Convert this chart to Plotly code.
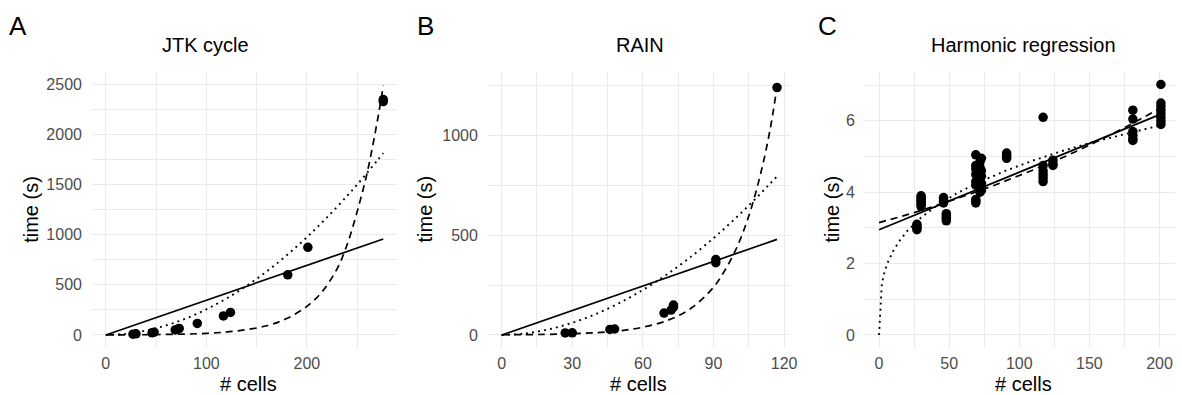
import plotly.graph_objects as go

W, H = 1182, 395

# ---------------- data: observed run times ----------------
jtk_cells = [27, 30, 46, 48, 69, 72, 73, 91, 117, 124, 181, 201, 276, 276]
jtk_time = [8, 12, 22, 28, 50, 60, 65, 115, 190, 225, 600, 875, 2330, 2350]

rain_cells = [27, 30, 46, 48, 69, 72, 73, 73, 91, 91, 117]
rain_time = [10, 11, 28, 30, 110, 125, 140, 150, 362, 378, 1240]

harm_cells = ([27] * 4 + [30] * 7 + [46] * 4 + [48] * 5 + [69] * 9 + [72] * 8 + [73] * 6
              + [91] * 4 + [117] * 6 + [124] * 3 + [181] * 6 + [201] * 8)
harm_time = [2.95, 3.0, 3.05, 3.1,
             3.6, 3.65, 3.7, 3.75, 3.8, 3.85, 3.9,
             3.7, 3.75, 3.8, 3.85,
             3.2, 3.25, 3.3, 3.35, 3.4,
             3.7, 3.75, 3.8, 4.2, 4.3, 4.5, 4.65, 4.75, 5.05,
             4.0, 4.1, 4.2, 4.3, 4.4, 4.55, 4.7, 4.85,
             4.05, 4.15, 4.25, 4.45, 4.6, 4.95,
             4.95, 5.0, 5.05, 5.1,
             4.3, 4.4, 4.5, 4.6, 4.75, 6.1,
             4.75, 4.8, 4.9,
             5.45, 5.5, 5.6, 5.7, 6.05, 6.3,
             5.9, 6.0, 6.1, 6.2, 6.3, 6.4, 6.5, 7.02]

# ---------------- fitted curves ----------------
jtk_lin_x = [0, 276]
jtk_lin_y = [0, 958]
jtk_pow_x = [0, 20, 40, 60, 80, 100, 120, 140, 160, 180, 200, 220, 240, 250, 260, 270, 276]
jtk_pow_y = [0, 11.5, 43.6, 95.6, 166, 256, 364, 490, 634, 796, 976, 1173, 1388, 1500, 1619, 1742, 1816]
jtk_exp_x = [0, 50, 100, 130, 160, 180, 200, 215, 230, 240, 250, 260, 270, 276]
jtk_exp_y = [1, 4, 16, 40, 92, 165, 285, 430, 660, 900, 1230, 1620, 2130, 2490]

rain_lin_x = [0, 117]
rain_lin_y = [0, 479]
rain_pow_x = [0, 10, 20, 30, 40, 50, 60, 70, 80, 90, 95, 100, 105, 110, 114, 117]
rain_pow_y = [0, 7.7, 28.4, 61, 105, 160, 226, 302, 388, 485, 537, 592, 649, 708, 758, 794]
rain_exp_x = [0, 30, 50, 60, 70, 80, 90, 95, 100, 105, 110, 114, 117]
rain_exp_y = [1, 6, 21, 39, 71, 130, 239, 327, 441, 596, 806, 1026, 1243]

harm_lin_x = [0, 201]
harm_lin_y = [2.95, 6.19]
harm_exp_x = [0, 25, 50, 75, 100, 125, 150, 175, 201]
harm_exp_y = [3.15, 3.43, 3.75, 4.09, 4.47, 4.87, 5.32, 5.81, 6.37]
harm_pow_x = [0, 2, 4, 6, 10, 15, 20, 30, 40, 55, 70, 90, 110, 130, 150, 175, 201]
harm_pow_y = [0, 1.44, 1.78, 2.01, 2.35, 2.66, 2.91, 3.29, 3.59, 3.96, 4.26, 4.60, 4.89, 5.15, 5.38, 5.63, 5.88]

# ---------------- tick labels ----------------
jtk_xticks = [0, 100, 200]
jtk_yticks = [0, 500, 1000, 1500, 2000, 2500]
rain_xticks = [0, 30, 60, 90, 120]
rain_yticks = [0, 500, 1000]
harm_xticks = [0, 50, 100, 150, 200]
harm_yticks = [0, 2, 4, 6]

titles = ["JTK cycle", "RAIN", "Harmonic regression"]
tags = ["A", "B", "C"]

FONT = "Liberation Sans, Arial, sans-serif"
GRID = "#EBEBEB"
LW = 1.7

fig = go.Figure()

panels = [
    dict(cells=jtk_cells, time=jtk_time, lin=(jtk_lin_x, jtk_lin_y), pw=(jtk_pow_x, jtk_pow_y),
         ex=(jtk_exp_x, jtk_exp_y), xt=jtk_xticks, yt=jtk_yticks,
         xr=[-13.8, 289.8], yr=[-125, 2625], dom=(92.5, 399.5), pow_shape="spline"),
    dict(cells=rain_cells, time=rain_time, lin=(rain_lin_x, rain_lin_y), pw=(rain_pow_x, rain_pow_y),
         ex=(rain_exp_x, rain_exp_y), xt=rain_xticks, yt=rain_yticks,
         xr=[-5.85, 122.85], yr=[-62.75, 1317.75], dom=(490.8, 795.5), pow_shape="spline"),
    dict(cells=harm_cells, time=harm_time, lin=(harm_lin_x, harm_lin_y), pw=(harm_pow_x, harm_pow_y),
         ex=(harm_exp_x, harm_exp_y), xt=harm_xticks, yt=harm_yticks,
         xr=[-10.05, 211.05], yr=[-0.351, 7.37], dom=(870.1, 1182), pow_shape="linear"),
]

ydom = [(H - 347.5) / H, (H - 72) / H]

for i, p in enumerate(panels):
    n = "" if i == 0 else str(i + 1)
    xa, ya = "x" + n, "y" + n
    fig.add_trace(go.Scatter(x=p["lin"][0], y=p["lin"][1], mode="lines", xaxis=xa, yaxis=ya,
                             line=dict(color="black", width=LW), showlegend=False))
    fig.add_trace(go.Scatter(x=p["pw"][0], y=p["pw"][1], mode="lines", xaxis=xa, yaxis=ya,
                             line=dict(color="black", width=LW + 0.2, dash="1.9px,4.2px",
                                       shape=p["pow_shape"]), showlegend=False))
    fig.add_trace(go.Scatter(x=p["ex"][0], y=p["ex"][1], mode="lines", xaxis=xa, yaxis=ya,
                             line=dict(color="black", width=LW, dash="7px,5px", shape="spline"),
                             showlegend=False))
    fig.add_trace(go.Scatter(x=p["cells"], y=p["time"], mode="markers", xaxis=xa, yaxis=ya,
                             marker=dict(color="black", size=9.5, line=dict(width=0)),
                             showlegend=False))

    xt, yt = p["xt"], p["yt"]
    xminor = [(a + b) / 2 for a, b in zip(xt[:-1], xt[1:])]
    xminor.append(xt[-1] + (xt[1] - xt[0]) / 2)
    yminor = [(a + b) / 2 for a, b in zip(yt[:-1], yt[1:])]
    yminor.append(yt[-1] + (yt[1] - yt[0]) / 2)

    fig.update_layout(**{
        ("xaxis" + n): dict(domain=[p["dom"][0] / W, min(p["dom"][1] / W, 1.0)], range=p["xr"],
                            anchor=ya, tickvals=xt, ticktext=[str(v) for v in xt],
                            showgrid=True, gridcolor=GRID, gridwidth=1.3, zeroline=False,
                            showline=False, ticks="", ticklabelstandoff=4,
                            tickfont=dict(family=FONT, size=16, color="#4D4D4D"),
                            minor=dict(tickvals=xminor, showgrid=True, gridcolor=GRID, gridwidth=0.8)),
        ("yaxis" + n): dict(domain=ydom, range=p["yr"], anchor=xa, tickvals=yt,
                            ticktext=[str(v) for v in yt],
                            showgrid=True, gridcolor=GRID, gridwidth=1.3, zeroline=False,
                            showline=False, ticks="", ticklabelstandoff=9,
                            tickfont=dict(family=FONT, size=16, color="#4D4D4D"),
                            minor=dict(tickvals=yminor, showgrid=True, gridcolor=GRID, gridwidth=0.8)),
    })

# text placed at measured pixel positions
ann = []
def txt(s, x, y, size, angle=0, color="black", xanchor="center"):
    ann.append(dict(text=s, x=x / W, y=1 - y / H, xref="paper", yref="paper", showarrow=False,
                    xanchor=xanchor, yanchor="middle", textangle=angle,
                    font=dict(family=FONT, size=size, color=color)))

tag_x = [7, 417, 821]
title_x = [207, 643.5, 1030]
ytitle_x = [31, 428, 836.5]
xtitle_x = [250, 642, 1030]
for i in range(3):
    txt(tags[i], tag_x[i], 26, 26, xanchor="left")
    txt(titles[i], title_x[i], 45, 20)
    txt("time (s)", ytitle_x[i], 209, 20, angle=-90)
    txt("# cells", xtitle_x[i], 384, 20)

fig.update_layout(width=W, height=H, margin=dict(l=0, r=0, t=0, b=0),
                  paper_bgcolor="white", plot_bgcolor="white", annotations=ann,
                  showlegend=False)

fig.write_html("out.html")
